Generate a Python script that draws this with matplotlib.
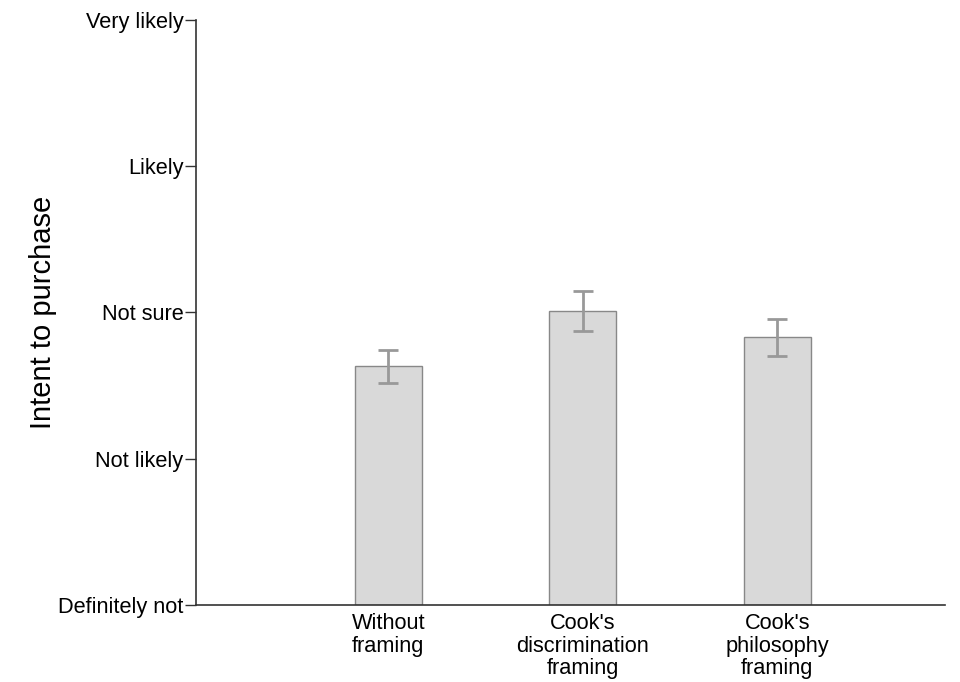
import numpy as np
import matplotlib.pyplot as plt

plt.rcParams['font.family'] = ['Liberation Sans', 'DejaVu Sans']

conditions = ["Without\nframing", "Cook's\ndiscrimination\nframing", "Cook's\nphilosophy\nframing"]
means = [2.63, 3.01, 2.83]
errors = [0.116, 0.137, 0.126]
ytick_vals = [1, 2, 3, 4, 5]
ytick_labels = ["Definitely not", "Not likely", "Not sure", "Likely", "Very likely"]

fig = plt.figure(figsize=(9.6, 6.82), dpi=100)
ax = fig.add_axes([0.204, 0.113, 0.78, 0.858])

x = np.arange(1, len(conditions) + 1)
ax.bar(x, [m - 1 for m in means], bottom=1, width=0.345,
       color='#d9d9d9', edgecolor='#888888', linewidth=1)
ax.errorbar(x, means, yerr=errors, fmt='none', ecolor='#999999',
            elinewidth=2, capsize=7, capthick=2)

ax.set_xlim(0.01, 3.86)
ax.set_ylim(1, 5)
ax.set_yticks(ytick_vals)
ax.set_yticklabels(ytick_labels, fontsize=15.7)
ax.set_xticks(x)
ax.set_xticklabels(conditions, fontsize=15.7, linespacing=1.08)
ax.tick_params(axis='x', length=0, pad=6)
ax.tick_params(axis='y', length=8, width=1, color='#333333', pad=1)
ax.set_ylabel("Intent to purchase", fontsize=21, labelpad=1)

for s in ['top', 'right']:
    ax.spines[s].set_visible(False)
for s in ['left', 'bottom']:
    ax.spines[s].set_color('#333333')
    ax.spines[s].set_linewidth(1.2)

fig.savefig('out.png', dpi=100)
